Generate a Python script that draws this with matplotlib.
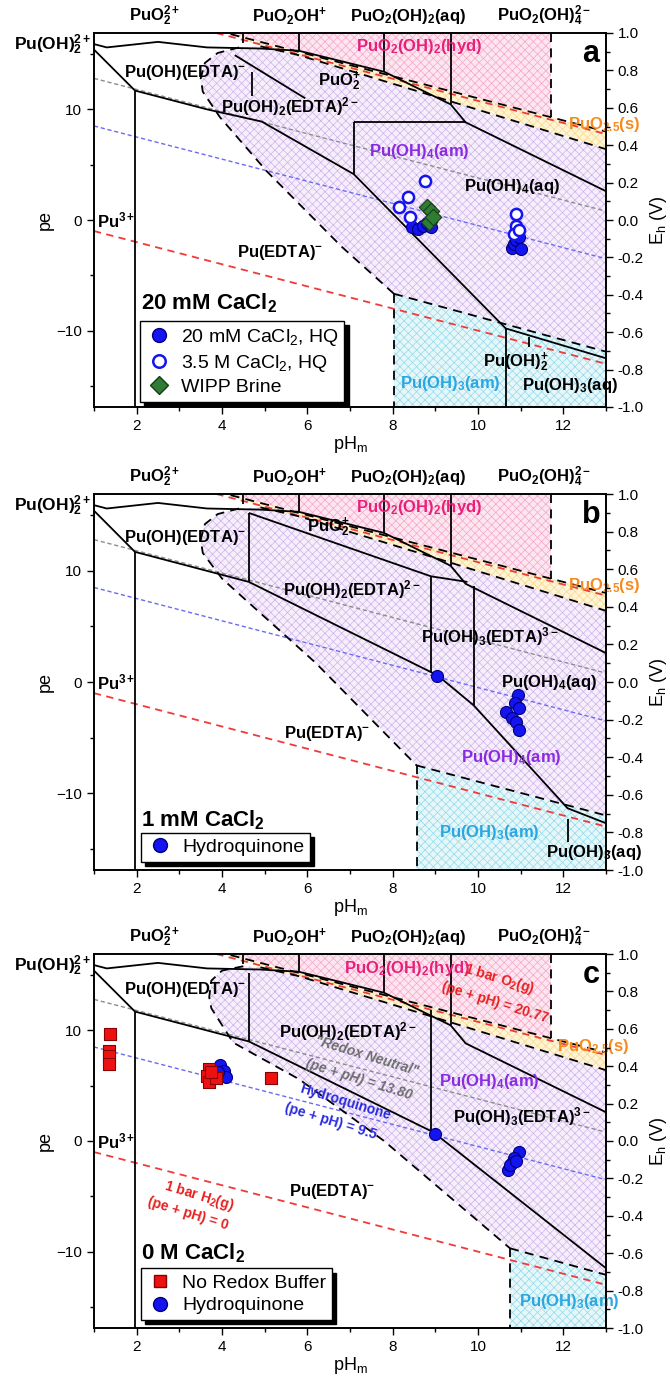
import numpy as np
import matplotlib as mpl
import matplotlib.pyplot as plt
from matplotlib.lines import Line2D
from matplotlib.ticker import MultipleLocator, FormatStrFormatter

mpl.rcParams['font.family'] = 'Liberation Sans'
mpl.rcParams['mathtext.fontset'] = 'custom'
mpl.rcParams['mathtext.rm'] = 'Liberation Sans'
mpl.rcParams['mathtext.bf'] = 'Liberation Sans:bold'
mpl.rcParams['mathtext.it'] = 'Liberation Sans:italic'
mpl.rcParams['hatch.linewidth'] = 0.5

EH_PER_PE = 0.05916
PE_LIM = 1.0 / EH_PER_PE

# redox reference lines, pe = k - pH
O2_K, NEUTRAL_K, HQ_K, H2_K = 20.77, 13.80, 9.5, 0.0

# shared upper (Pu(V)/Pu(VI)) structure
UPPER_PH = [1.0, 1.3, 2.5, 3.65, 4.9, 5.8, 7.8, 9.36, 9.71, 13.0]
UPPER_PE = [15.9, 15.6, 16.1, 15.6, 15.5, 15.3, 13.4, 10.45, 8.83, 2.6]
LEFT_DIAG_PH = [1.0, 1.96]
LEFT_DIAG_PE = [15.4, 11.7]
VI_VERT_PH = [4.5, 5.8, 7.8, 9.36]
VI_VERT_PE = [16.0, 15.3, 13.4, 10.45]
HYD_EDGE_PH = 11.7
DASH_A_PH = [4.2, 13.0]
DASH_A_PE = [16.8, 8.0]
DASH_B_PH = [4.9, 5.8, 8.96, 13.0]
DASH_B_PE = [15.7, 14.9, 11.2, 6.4]
PU3_VERT_PH = 1.96

# panel a: 20 mM CaCl2
A_LOW_PH = [1.96, 3.65, 4.93, 7.09, 10.65, 13.0]
A_LOW_PE = [11.7, 10.0, 8.9, 4.14, -9.8, -12.5]
A_SEG_PH = [(4.7, 4.7), (4.3, 5.95), (7.09, 9.71), (7.09, 7.09), (10.65, 10.65), (11.2, 11.2)]
A_SEG_PE = [(13.4, 11.2), (14.9, 11.0), (8.83, 8.83), (8.83, 4.14), (-9.8, -16.9), (-10.6, -11.5)]
A_AM4_LEFT_PH = [4.4, 3.9, 3.6, 3.5, 3.55, 3.95, 5.05, 6.8, 8.03]
A_AM4_LEFT_PE = [15.6, 15.1, 14.2, 12.8, 11.6, 9.3, 4.4, -2.4, -6.67]
A_AM3_PH = [8.03, 13.0]
A_AM3_PE = [-6.67, -11.9]
A_HQ20_PH = [8.45, 8.6, 8.7, 8.8, 8.9, 10.8, 10.85, 10.9, 10.95, 11.0, 10.9]
A_HQ20_PE = [-0.6, -0.8, -0.5, -0.3, -0.6, -2.5, -2.2, -1.8, -1.5, -2.6, -1.0]
A_HQ35_PH = [8.75, 8.35, 8.15, 8.4, 10.9, 10.9, 10.85, 10.95]
A_HQ35_PE = [3.5, 2.1, 1.2, 0.3, 0.5, -0.5, -1.3, -0.9]
A_WIPP_PH = [8.8, 8.9, 8.85, 8.95]
A_WIPP_PE = [1.2, 0.8, -0.2, 0.3]

# panel b: 1 mM CaCl2
B_LOW_PH = [1.96, 4.63, 9.05, 9.9, 12.1, 13.0]
B_LOW_PE = [11.7, 9.0, 0.6, -2.1, -11.35, -12.7]
B_SEG_PH = [(4.63, 4.63), (4.63, 8.9), (8.9, 9.75), (8.9, 8.9), (9.9, 9.9), (12.1, 12.1)]
B_SEG_PE = [(15.2, 9.0), (15.2, 9.5), (9.5, 9.0), (9.5, 0.9), (8.6, -2.1), (-12.3, -14.4)]
B_AM4_LEFT_PH = [4.4, 3.9, 3.6, 3.5, 3.55, 4.0, 5.1, 6.2, 8.56]
B_AM4_LEFT_PE = [15.6, 15.1, 14.2, 12.8, 11.6, 9.3, 5.5, 1.7, -7.5]
B_AM3_PH = [8.56, 13.0]
B_AM3_PE = [-7.5, -12.0]
B_HQ_PH = [9.05, 10.93, 10.86, 10.95, 10.65, 10.8, 10.9, 10.95]
B_HQ_PE = [0.5, -1.2, -1.9, -2.3, -2.7, -3.2, -3.6, -4.3]

# panel c: 0 M CaCl2
C_LOW_PH = [1.96, 4.63, 8.95, 13.0]
C_LOW_PE = [11.7, 9.0, 0.8, -11.5]
C_SEG_PH = [(4.63, 4.63), (8.9, 8.9)]
C_SEG_PE = [(15.2, 9.0), (11.8, 0.9)]
C_AM4_LEFT_PH = [4.5, 4.0, 3.75, 3.7, 3.75, 4.26, 5.8, 7.8, 10.75]
C_AM4_LEFT_PE = [15.8, 15.4, 14.5, 13.0, 12.0, 8.9, 5.6, 0.0, -9.7]
C_AM3_PH = [10.75, 13.0]
C_AM3_PE = [-9.7, -12.1]
C_NOBUF_PH = [1.38, 1.35, 1.36, 1.35, 3.7, 3.65, 3.7, 3.85, 3.75, 5.15]
C_NOBUF_PE = [9.7, 8.1, 7.7, 7.0, 6.5, 5.9, 5.3, 5.7, 6.2, 5.65]
C_HQ_PH = [3.95, 4.05, 4.1, 3.9, 9.0, 10.95, 10.85, 10.8, 10.7, 10.75, 10.9]
C_HQ_PE = [6.9, 6.3, 5.8, 6.2, 0.6, -1.0, -1.5, -2.0, -2.6, -2.2, -1.8]

TOP_LABELS = [r'PuO$_\mathbf{2}^\mathbf{2+}$', r'PuO$_\mathbf{2}$OH$^\mathbf{+}$',
              r'PuO$_\mathbf{2}$(OH)$_\mathbf{2}$(aq)', r'PuO$_\mathbf{2}$(OH)$_\mathbf{4}^\mathbf{2-}$']
TOP_LABEL_PH = [2.43, 5.59, 8.35, 11.56]

PURPLE = '#8a2be2'
PINK = '#e8207a'
ORANGE = '#f58a1f'
CYAN = '#2aa6e0'


def line_pe(k, ph):
    return k - np.asarray(ph)


def base_axes(ax, letter):
    ax.set_xlim(1, 13)
    ax.set_ylim(-PE_LIM, PE_LIM)
    ax.xaxis.set_major_locator(MultipleLocator(2))
    ax.xaxis.set_minor_locator(MultipleLocator(1))
    ax.yaxis.set_major_locator(MultipleLocator(10))
    ax.yaxis.set_minor_locator(MultipleLocator(5))
    ax.tick_params(which='both', direction='out', labelsize=11, width=1)
    ax.tick_params(which='major', length=5)
    ax.tick_params(which='minor', length=3)
    for s in ax.spines.values():
        s.set_linewidth(1.2)
    ax.set_xlabel(r'pH$_\mathrm{m}$', fontsize=13, labelpad=1)
    ax.set_ylabel('pe', fontsize=13, labelpad=2)
    ax2 = ax.twinx()
    ax2.set_ylim(-1.0, 1.0)
    ax2.yaxis.set_major_locator(MultipleLocator(0.2))
    ax2.yaxis.set_minor_locator(MultipleLocator(0.1))
    ax2.yaxis.set_major_formatter(FormatStrFormatter('%.1f'))
    ax2.tick_params(which='both', direction='out', labelsize=11, width=1)
    ax2.tick_params(which='major', length=5)
    ax2.tick_params(which='minor', length=3)
    ax2.set_ylabel(r'E$_\mathrm{h}$ (V)', fontsize=13, labelpad=3)
    for s in ax2.spines.values():
        s.set_linewidth(1.2)

    for lab, x in zip(TOP_LABELS, TOP_LABEL_PH):
        ax.text(x, 1.045, lab, transform=ax.get_xaxis_transform(), ha='center', va='center',
                fontsize=12, fontweight='bold', clip_on=False)
    ax.text(0.93, 15.8, r'Pu(OH)$_\mathbf{2}^\mathbf{2+}$', ha='right', va='center',
            fontsize=12.5, fontweight='bold', clip_on=False)
    ax.text(1.07, 0.0, r'Pu$^\mathbf{3+}$', ha='left', va='center', fontsize=12, fontweight='bold')
    ax.text(12.65, 15.0, letter, ha='center', va='center', fontsize=22, fontweight='bold')
    return ax2


def fill_region(ax, ph, pe, face, hatch_col):
    ax.fill(ph, pe, facecolor=face, edgecolor=hatch_col, hatch='xxxx', lw=0, zorder=1)


def draw_panel(ax, low_ph, low_pe, seg_ph, seg_pe, am4_ph, am4_pe, am3_ph, am3_pe):
    x = np.array([1.0, 13.0])
    # regions
    a_ph, a_pe = np.array(DASH_A_PH), np.array(DASH_A_PE)
    pink_top = (O2_K + 0.25) - PE_LIM
    fill_region(ax, [pink_top, HYD_EDGE_PH, HYD_EDGE_PH],
                [PE_LIM, PE_LIM, np.interp(HYD_EDGE_PH, a_ph, a_pe)], '#fde6f0', '#f4a6c8')
    fill_region(ax, list(a_ph) + DASH_B_PH[::-1], list(a_pe) + DASH_B_PE[::-1], '#fff4d6', '#f7d98c')
    fill_region(ax, am4_ph[:1] + DASH_B_PH + [13.0, am3_ph[0]] + am4_ph[::-1],
                am4_pe[:1] + DASH_B_PE + [am3_pe[1], am3_pe[0]] + am4_pe[::-1], '#f6eefb', '#cdb2ea')
    fill_region(ax, [am3_ph[0], am3_ph[0], 13.0, 13.0], [-PE_LIM, am3_pe[0], am3_pe[1], -PE_LIM],
                '#e6f7fa', '#93d9ea')

    # reference redox lines
    ax.plot(x, line_pe(NEUTRAL_K, x), ls=(0, (3, 2)), color='#8c8c8c', lw=1.0, zorder=2)
    ax.plot(x, line_pe(HQ_K, x), ls=(0, (3, 2)), color='#6b6bf2', lw=1.0, zorder=2)
    ax.plot(x, line_pe(H2_K, x), ls=(0, (4, 3)), color='#f03a3a', lw=1.3, zorder=2)
    ax.plot(x, line_pe(O2_K, x), ls=(0, (4, 3)), color='#f03a3a', lw=1.3, zorder=2)

    # solid boundaries
    sk = dict(color='black', lw=1.3, zorder=3, solid_capstyle='butt')
    ax.plot(UPPER_PH, UPPER_PE, **sk)
    ax.plot(LEFT_DIAG_PH, LEFT_DIAG_PE, **sk)
    ax.plot(low_ph, low_pe, **sk)
    ax.plot([PU3_VERT_PH, PU3_VERT_PH], [low_pe[0], -PE_LIM], **sk)
    for vx, vy in zip(VI_VERT_PH, VI_VERT_PE):
        ax.plot([vx, vx], [PE_LIM, vy], **sk)
    for sx, sy in zip(seg_ph, seg_pe):
        ax.plot(sx, sy, **sk)

    # dashed solid-phase boundaries
    dk = dict(color='black', lw=1.3, ls=(0, (5, 3.5)), zorder=3)
    ax.plot(DASH_A_PH, DASH_A_PE, **dk)
    ax.plot(DASH_B_PH, DASH_B_PE, **dk)
    ax.plot([HYD_EDGE_PH, HYD_EDGE_PH], [PE_LIM, np.interp(HYD_EDGE_PH, a_ph, a_pe)], **dk)
    ax.plot(am4_ph, am4_pe, **dk)
    ax.plot(am3_ph, am3_pe, **dk)
    ax.plot([am3_ph[0], am3_ph[0]], [am3_pe[0], -PE_LIM], **dk)


def species(ax, x, y, s, color='black', size=12, **kw):
    ax.text(x, y, s, ha='center', va='center', fontsize=size, fontweight='bold', color=color,
            zorder=6, **kw)


def add_legend(ax, handles, anchor):
    leg = ax.legend(handles=handles, loc='lower left', bbox_to_anchor=anchor, fontsize=14,
                    frameon=True, fancybox=False, edgecolor='black', framealpha=1,
                    borderaxespad=0, handletextpad=0.5, labelspacing=0.25, borderpad=0.3,
                    handlelength=1.3, shadow={'ox': 3, 'oy': -3, 'color': 'black', 'alpha': 1})
    leg.get_frame().set_linewidth(1.0)
    leg.set_zorder(10)


blue_fill = dict(marker='o', s=75, facecolor='#1414f0', edgecolor='#00007a', linewidths=0.8, zorder=5)

fig = plt.figure(figsize=(6.7, 13.76), dpi=100)
left, width = 94 / 670, 512 / 670
ax_a = fig.add_axes([left, 1 - 407 / 1376, width, 374 / 1376])
ax_b = fig.add_axes([left, 1 - 870 / 1376, width, 376 / 1376])
ax_c = fig.add_axes([left, 1 - 1328 / 1376, width, 374 / 1376])

# ---------------- panel a
base_axes(ax_a, 'a')
draw_panel(ax_a, A_LOW_PH, A_LOW_PE, A_SEG_PH, A_SEG_PE, A_AM4_LEFT_PH, A_AM4_LEFT_PE, A_AM3_PH, A_AM3_PE)
ax_a.scatter(A_HQ20_PH, A_HQ20_PE, **blue_fill)
ax_a.scatter(A_HQ35_PH, A_HQ35_PE, marker='o', s=65, facecolor='white', edgecolor='#1414f0',
             linewidths=1.8, zorder=5)
ax_a.scatter(A_WIPP_PH, A_WIPP_PE, marker='D', s=70, facecolor='#2e7d32', edgecolor='#163d18',
             linewidths=0.8, zorder=6)
species(ax_a, 3.13, 13.3, r'Pu(OH)(EDTA)$^\mathbf{-}$')
species(ax_a, 6.75, 12.6, r'PuO$_\mathbf{2}^\mathbf{+}$')
species(ax_a, 5.6, 10.3, r'Pu(OH)$_\mathbf{2}$(EDTA)$^\mathbf{2-}$')
species(ax_a, 8.63, 6.2, r'Pu(OH)$_\mathbf{4}$(am)', PURPLE)
species(ax_a, 10.79, 3.0, r'Pu(OH)$_\mathbf{4}$(aq)')
species(ax_a, 8.63, 15.7, r'PuO$_\mathbf{2}$(OH)$_\mathbf{2}$(hyd)', PINK)
species(ax_a, 12.97, 8.65, r'PuO$_\mathbf{2.5}$(s)', ORANGE, clip_on=False)
species(ax_a, 5.36, -2.9, r'Pu(EDTA)$^\mathbf{-}$')
species(ax_a, 10.88, -12.8, r'Pu(OH)$_\mathbf{2}^\mathbf{+}$')
species(ax_a, 9.34, -14.8, r'Pu(OH)$_\mathbf{3}$(am)', CYAN)
species(ax_a, 12.15, -15.0, r'Pu(OH)$_\mathbf{3}$(aq)')
ax_a.text(0.092, 0.278, r'20 mM CaCl$_\mathbf{2}$', transform=ax_a.transAxes, ha='left', va='center',
          fontsize=16, fontweight='bold', zorder=6)
add_legend(ax_a, [
    Line2D([], [], ls='none', marker='o', ms=10, mfc='#1414f0', mec='#00007a', label=r'20 mM CaCl$_2$, HQ'),
    Line2D([], [], ls='none', marker='o', ms=9, mfc='white', mec='#1414f0', mew=1.8, label=r'3.5 M CaCl$_2$, HQ'),
    Line2D([], [], ls='none', marker='D', ms=9, mfc='#2e7d32', mec='#163d18', label='WIPP Brine'),
], (0.09, 0.013))

# ---------------- panel b
base_axes(ax_b, 'b')
draw_panel(ax_b, B_LOW_PH, B_LOW_PE, B_SEG_PH, B_SEG_PE, B_AM4_LEFT_PH, B_AM4_LEFT_PE, B_AM3_PH, B_AM3_PE)
ax_b.scatter(B_HQ_PH, B_HQ_PE, **blue_fill)
species(ax_b, 3.13, 13.0, r'Pu(OH)(EDTA)$^\mathbf{-}$')
species(ax_b, 6.5, 13.9, r'PuO$_\mathbf{2}^\mathbf{+}$')
species(ax_b, 7.04, 8.3, r'Pu(OH)$_\mathbf{2}$(EDTA)$^\mathbf{2-}$')
species(ax_b, 10.27, 4.05, r'Pu(OH)$_\mathbf{3}$(EDTA)$^\mathbf{3-}$')
species(ax_b, 11.66, 0.0, r'Pu(OH)$_\mathbf{4}$(aq)')
species(ax_b, 10.79, -6.75, r'Pu(OH)$_\mathbf{4}$(am)', PURPLE)
species(ax_b, 8.63, 15.7, r'PuO$_\mathbf{2}$(OH)$_\mathbf{2}$(hyd)', PINK)
species(ax_b, 12.97, 8.65, r'PuO$_\mathbf{2.5}$(s)', ORANGE, clip_on=False)
species(ax_b, 6.46, -4.6, r'Pu(EDTA)$^\mathbf{-}$')
species(ax_b, 10.27, -13.5, r'Pu(OH)$_\mathbf{3}$(am)', CYAN)
species(ax_b, 12.73, -15.3, r'Pu(OH)$_\mathbf{3}$(aq)')
ax_b.text(0.092, 0.133, r'1 mM CaCl$_\mathbf{2}$', transform=ax_b.transAxes, ha='left', va='center',
          fontsize=16, fontweight='bold', zorder=6)
add_legend(ax_b, [Line2D([], [], ls='none', marker='o', ms=10, mfc='#1414f0', mec='#00007a',
                         label='Hydroquinone')], (0.092, 0.021))

# ---------------- panel c
base_axes(ax_c, 'c')
draw_panel(ax_c, C_LOW_PH, C_LOW_PE, C_SEG_PH, C_SEG_PE, C_AM4_LEFT_PH, C_AM4_LEFT_PE, C_AM3_PH, C_AM3_PE)
ax_c.scatter(C_HQ_PH, C_HQ_PE, **blue_fill)
ax_c.scatter(C_NOBUF_PH, C_NOBUF_PE, marker='s', s=70, facecolor='#ee1111', edgecolor='#8a0000',
             linewidths=0.8, zorder=6)
species(ax_c, 3.13, 13.7, r'Pu(OH)(EDTA)$^\mathbf{-}$')
species(ax_c, 6.95, 9.9, r'Pu(OH)$_\mathbf{2}$(EDTA)$^\mathbf{2-}$')
species(ax_c, 10.27, 5.4, r'Pu(OH)$_\mathbf{4}$(am)', PURPLE)
species(ax_c, 11.02, 2.2, r'Pu(OH)$_\mathbf{3}$(EDTA)$^\mathbf{3-}$')
species(ax_c, 6.57, -4.6, r'Pu(EDTA)$^\mathbf{-}$')
species(ax_c, 12.15, -14.5, r'Pu(OH)$_\mathbf{3}$(am)', CYAN)
species(ax_c, 8.33, 15.6, r'PuO$_\mathbf{2}$(OH)$_\mathbf{2}$(hyd)', PINK)
species(ax_c, 12.7, 8.5, r'PuO$_\mathbf{2.5}$(s)', ORANGE, clip_on=False)
rot = -17
species(ax_c, 10.5, 14.6, r'1 bar O$_\mathbf{2}$(g)', '#e82020', 10, rotation=rot)
species(ax_c, 10.4, 12.5, '(pe + pH) = 20.77', '#e82020', 10, rotation=rot)
species(ax_c, 7.4, 7.65, '"Redox Neutral"', '#6e6e6e', 10, rotation=rot, style='italic')
species(ax_c, 7.2, 5.6, '(pe + pH) = 13.80', '#6e6e6e', 10, rotation=rot, style='italic')
species(ax_c, 6.9, 3.5, 'Hydroquinone', '#2a2ae0', 10, rotation=rot)
species(ax_c, 6.55, 1.8, '(pe + pH) = 9.5', '#2a2ae0', 10, rotation=rot)
species(ax_c, 3.46, -4.95, r'1 bar H$_\mathbf{2}$(g)', '#e82020', 10, rotation=rot)
species(ax_c, 3.2, -6.6, '(pe + pH) = 0', '#e82020', 10, rotation=rot)
ax_c.text(0.092, 0.2, r'0 M CaCl$_\mathbf{2}$', transform=ax_c.transAxes, ha='left', va='center',
          fontsize=16, fontweight='bold', zorder=6)
add_legend(ax_c, [
    Line2D([], [], ls='none', marker='s', ms=9, mfc='#ee1111', mec='#8a0000', label='No Redox Buffer'),
    Line2D([], [], ls='none', marker='o', ms=10, mfc='#1414f0', mec='#00007a', label='Hydroquinone'),
], (0.092, 0.021))

fig.savefig('out.png', dpi=100)
